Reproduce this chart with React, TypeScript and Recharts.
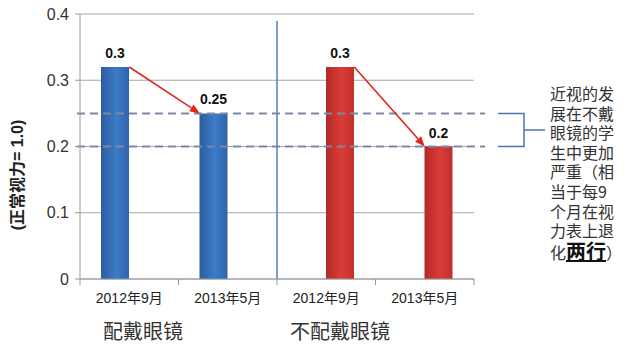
import { BarChart, Bar, XAxis, YAxis, CartesianGrid, ReferenceLine, ReferenceArea, LabelList } from 'recharts';

// data
const categories = ['c1', 'c2', 'c3', 'c4'];
const tickLabels = ['2012年9月', '2013年5月', '2012年9月', '2013年5月'];
const withGlasses = [0.32, 0.25, null, null];
const withoutGlasses = [null, null, 0.32, 0.2];
const withGlassesLabels = ['0.3', '0.25', null, null];
const withoutGlassesLabels = [null, null, '0.3', '0.2'];
const yTicks = [0, 0.1, 0.2, 0.3, 0.4];
const groupLabels = ['配戴眼镜', '不配戴眼镜'];
const yLabel = '(正常视力= 1.0)';
const noteLines = ['近视的发', '展在不戴', '眼镜的学', '生中更加', '严重（相', '当于每9', '个月在视', '力表上退'];

const data = categories.map((key, i) => ({
  key,
  label: tickLabels[i],
  blue: withGlasses[i],
  red: withoutGlasses[i],
  blueNote: withGlassesLabels[i],
  redNote: withoutGlassesLabels[i],
}));

const W = 632;
const H = 360;
const MARGIN = { top: 14, right: 158, bottom: 51, left: 40 };
const Y_W = 40;
const X_H = 30;
const BAR_W = 28;
const FONT = "'Liberation Sans', 'Noto Sans CJK SC', sans-serif";
const CJK = "'Noto Sans CJK SC', sans-serif";
const BAND = (W - MARGIN.left - Y_W - MARGIN.right) / categories.length;

const XTick = (props: any) => {
  const { x, y, payload, index } = props;
  const axisY = y - 10;
  const half = BAND / 2;
  return (
    <g>
      <line x1={x - half} x2={x - half} y1={axisY} y2={axisY + 6} stroke="#9a9a9a" />
      {index === categories.length - 1 && (
        <line x1={x + half} x2={x + half} y1={axisY} y2={axisY + 6} stroke="#9a9a9a" />
      )}
      <text x={x} y={y + 4} dy="0.71em" textAnchor="middle" fontSize={14} fill="#222" fontFamily={FONT}>
        {tickLabels[categories.indexOf(payload.value)]}
      </text>
    </g>
  );
};

const arrowShape = (dxStart: number, dxEnd: number) => (p: any) => {
  const x1 = p.x1 + dxStart;
  const y1 = p.y1;
  const x2 = p.x2 + dxEnd;
  const y2 = p.y2;
  const a = Math.atan2(y2 - y1, x2 - x1);
  const len = 10;
  const w = 4;
  const bx = x2 - len * Math.cos(a);
  const by = y2 - len * Math.sin(a);
  const pts = `${x2},${y2} ${bx + w * Math.sin(a)},${by - w * Math.cos(a)} ${bx - w * Math.sin(a)},${by + w * Math.cos(a)}`;
  return (
    <g>
      <line x1={x1} y1={y1} x2={bx} y2={by} stroke="#e5231e" strokeWidth={1.6} />
      <polygon points={pts} fill="#e5231e" />
    </g>
  );
};

const dashedShape = (p: any) => (
  <line x1={p.x1 - 3} x2={p.x2 + 11} y1={p.y1} y2={p.y2} stroke="#7b89a6" strokeWidth={2} strokeDasharray="8 5" />
);

const dividerShape = (p: any) => (
  <line x1={p.x1} x2={p.x2} y1={p.y1} y2={p.y2 + 7} stroke="#4f7fbd" strokeWidth={1.5} />
);

const bracketShape = (p: any) => {
  const r = p.x + p.width;
  const top = p.y;
  const bot = p.y + p.height;
  const mid = (top + bot) / 2;
  return (
    <path
      d={`M${r + 24},${top} H${r + 50} V${bot} H${r + 24} M${r + 50},${mid} H${r + 71}`}
      fill="none"
      stroke="#4a77b4"
      strokeWidth={1.5}
    />
  );
};

const YLabel = () => (
  <text
    x={17}
    y={175}
    transform="rotate(-90 17 175)"
    textAnchor="middle"
    dominantBaseline="central"
    fontSize={16}
    fontWeight="bold"
    fill="#222"
    fontFamily={FONT}
  >
    {yLabel}
  </text>
);

export default function App() {
  return (
    <div style={{ position: 'absolute', left: 0, top: 0, width: W, height: H, background: '#fff' }}>
      <BarChart width={W} height={H} data={data} margin={MARGIN} barGap={0} barSize={BAR_W}>
        <defs>
          <linearGradient id="blueGrad" x1="0" y1="0" x2="1" y2="0">
            <stop offset="0%" stopColor="#2b5c9f" />
            <stop offset="55%" stopColor="#3c7cc8" />
            <stop offset="100%" stopColor="#2e64ab" />
          </linearGradient>
          <linearGradient id="redGrad" x1="0" y1="0" x2="1" y2="0">
            <stop offset="0%" stopColor="#b32826" />
            <stop offset="55%" stopColor="#d93d38" />
            <stop offset="100%" stopColor="#c0302c" />
          </linearGradient>
        </defs>
        <CartesianGrid vertical={false} stroke="#a6a6a6" />
        <XAxis
          dataKey="key"
          height={X_H}
          stroke="#9a9a9a"
          tickLine={false}
          tickSize={6}
          tickMargin={4}
          tick={<XTick />}
          interval={0}
        />
        <YAxis
          width={Y_W}
          domain={[0, 0.4]}
          ticks={yTicks}
          stroke="#9a9a9a"
          tickSize={5}
          tickMargin={6}
          tick={{ fontSize: 16, fill: '#333', fontFamily: FONT }}
          tickFormatter={(v: number) => (v === 0 ? '0' : v.toFixed(1))}
          label={<YLabel />}
        />
        <Bar dataKey="blue" fill="url(#blueGrad)" isAnimationActive={false}>
          <LabelList dataKey="blueNote" position="top" offset={9} fontSize={14} fontWeight="bold" fill="#111" fontFamily={FONT} />
        </Bar>
        <Bar dataKey="red" fill="url(#redGrad)" isAnimationActive={false}>
          <LabelList dataKey="redNote" position="top" offset={9} fontSize={14} fontWeight="bold" fill="#111" fontFamily={FONT} />
        </Bar>
        <ReferenceLine x="c3" position="start" shape={dividerShape} />
        <ReferenceLine y={0.25} shape={dashedShape} />
        <ReferenceLine y={0.2} shape={dashedShape} />
        <ReferenceArea y1={0.2} y2={0.25} shape={bracketShape} />
        <ReferenceLine segment={[{ x: 'c1', y: 0.32 }, { x: 'c2', y: 0.25 }]} shape={arrowShape(0, -BAR_W)} />
        <ReferenceLine segment={[{ x: 'c3', y: 0.32 }, { x: 'c4', y: 0.2 }]} shape={arrowShape(BAR_W, 0)} />
      </BarChart>
      <div style={{ position: 'absolute', left: 103, top: 316, fontSize: 20, color: '#333', fontFamily: CJK }}>
        {groupLabels[0]}
      </div>
      <div style={{ position: 'absolute', left: 290, top: 316, fontSize: 20, color: '#333', fontFamily: CJK }}>
        {groupLabels[1]}
      </div>
      <div
        style={{
          position: 'absolute',
          left: 550,
          top: 84,
          width: 80,
          fontSize: 16,
          lineHeight: '19.6px',
          color: '#333',
          fontFamily: CJK,
        }}
      >
        {noteLines.map((l, i) => (
          <div key={i}>{l}</div>
        ))}
        <div>
          化<b style={{ fontSize: 20, textDecoration: 'underline', color: '#111' }}>两行</b>）
        </div>
      </div>
    </div>
  );
}
